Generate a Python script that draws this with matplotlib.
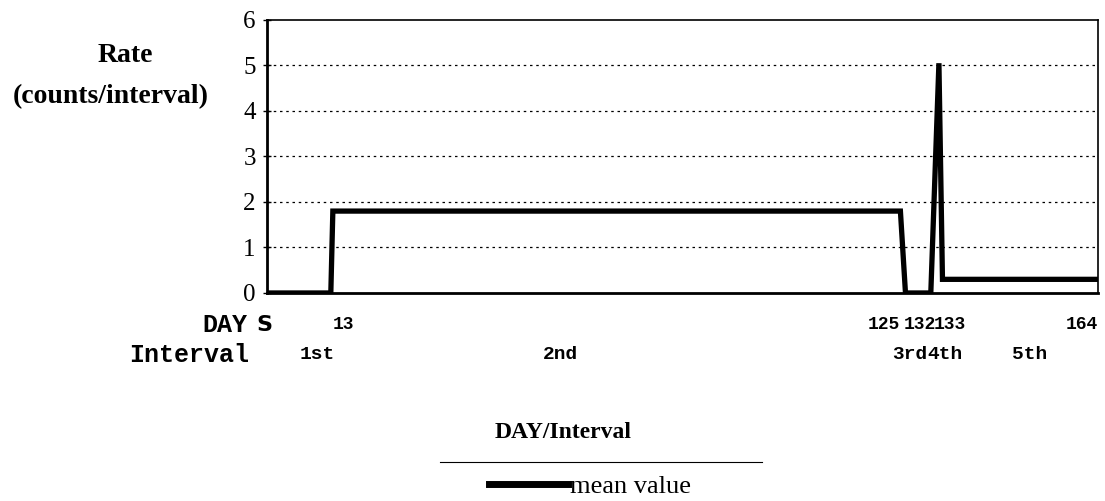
import matplotlib.pyplot as plt
from matplotlib.lines import Line2D
import matplotlib.transforms as mtransforms

# mean rate per day
days = [0, 12.6, 13, 125, 126, 131, 132.6, 133.3, 164]
rate = [0, 0, 1.8, 1.8, 0, 0, 5.05, 0.3, 0.3]

# x labels
day_labels = ['S', '13', '125', '132', '133', '164']
day_label_x = [0, 13, 125, 132, 131.6, 164]
day_label_ha = ['center', 'left', 'right', 'right', 'left', 'right']
interval_labels = ['1st', '2nd', '3rd', '4th', '5th']
interval_label_x = [10, 58, 126.8, 133.8, 150.5]

fig = plt.figure(figsize=(11.05, 5.01), dpi=100)
ax = fig.add_axes([0.2416, 0.4152, 0.7521, 0.5449])

ax.plot(days, rate, color='black', lw=3.8, solid_joinstyle='miter', label='mean value')

ax.set_xlim(0, 164)
ax.set_ylim(0, 6)
ax.set_xticks([])
ax.set_yticks(range(7))
ax.tick_params(axis='y', direction='inout', length=6, width=1, labelsize=18, pad=5)
for lbl in ax.get_yticklabels():
    lbl.set_family('Liberation Serif')
for y in range(1, 6):
    ax.axhline(y, color='black', lw=0.9, ls=(0, (2, 3)))
for s in ax.spines.values():
    s.set_linewidth(1.2)
ax.spines['left'].set_linewidth(2)
ax.spines['bottom'].set_linewidth(2)

mono = dict(family='Liberation Mono', weight='bold')
trans = mtransforms.blended_transform_factory(ax.transData, ax.transAxes)
for lab, x, ha in zip(day_labels, day_label_x, day_label_ha):
    if lab == 'S':
        ax.text(x - 0.6, -0.117, lab, transform=trans, ha=ha, va='center',
                fontsize=16, family='DejaVu Sans', weight='bold')
    else:
        ax.text(x, -0.117, lab, transform=trans, ha=ha, va='center',
                fontsize=13, **mono)
for lab, x in zip(interval_labels, interval_label_x):
    ax.text(x, -0.227, lab, transform=trans, ha='center', va='center',
            fontsize=14, **mono)

fig.text(247 / 1105, 1 - 325 / 501, 'DAY', ha='right', va='center', fontsize=18, **mono)
fig.text(249 / 1105, 1 - 355 / 501, 'Interval', ha='right', va='center', fontsize=18, **mono)

fig.text(125 / 1105, 1 - 55 / 501, 'Rate', ha='center', va='center', fontsize=20,
         family='Liberation Serif', weight='bold')
fig.text(111 / 1105, 1 - 97 / 501, '(counts/interval)', ha='center', va='center',
         fontsize=20, family='Liberation Serif', weight='bold')

fig.text(563 / 1105, 1 - 432 / 501, 'DAY/Interval', ha='center', va='center',
         fontsize=17, family='Liberation Serif', weight='bold')

fig.add_artist(Line2D([440 / 1105, 762 / 1105], [1 - 462 / 501, 1 - 462 / 501],
                      color='black', lw=0.8))
leg = fig.legend(loc='center', bbox_to_anchor=(590 / 1105, 1 - 486 / 501), frameon=False,
                 handlelength=3.0, handletextpad=0.05, borderpad=0,
                 prop={'family': 'Liberation Serif', 'size': 19})
leg.get_lines()[0].set_linewidth(5)

fig.savefig('out.png', dpi=100)
